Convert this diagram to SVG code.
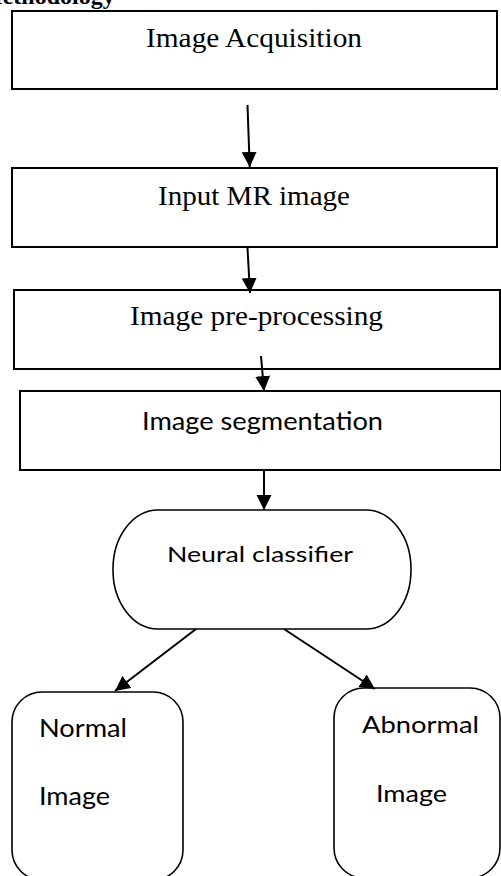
<svg xmlns="http://www.w3.org/2000/svg" width="501" height="876" viewBox="0 0 501 876">
  <defs>
    <marker id="ah" markerUnits="userSpaceOnUse" markerWidth="16" markerHeight="16" refX="15" refY="8" orient="auto">
      <path d="M0,0.5 L15,8 L0,15.5 z" fill="#000"/>
    </marker>
    <style>
      .box { fill: #fff; stroke: #000; stroke-width: 2; }
      .rbox { fill: #fff; stroke: #000; stroke-width: 1.6; }
      .serif { font-family: "Liberation Serif", "Times New Roman", serif; font-size: 27px; fill: #000; }
      .sans { font-family: Lato, "Open Sans", sans-serif; fill: #000; }
      .conn { stroke: #000; stroke-width: 2; fill: none; marker-end: url(#ah); }
    </style>
  </defs>
  <rect width="501" height="876" fill="#fff"/>
  <text x="-20" y="4" font-family="Liberation Serif, serif" font-weight="bold" font-size="24" fill="#000">Methodology</text>

  <g id="acquisition">
    <rect class="box" x="12" y="11" width="485" height="78"/>
    <text class="serif" x="146" y="47" textLength="216" lengthAdjust="spacingAndGlyphs">Image Acquisition</text>
  </g>
  <g id="input">
    <rect class="box" x="12" y="168" width="485" height="79"/>
    <text class="serif" x="158" y="205" textLength="192" lengthAdjust="spacingAndGlyphs">Input MR image</text>
  </g>
  <g id="preprocessing">
    <rect class="box" x="14" y="290" width="486" height="79"/>
    <text class="serif" x="130" y="325" font-size="25" textLength="253" lengthAdjust="spacingAndGlyphs">Image pre-processing</text>
  </g>
  <g id="segmentation">
    <rect class="box" x="20" y="391" width="481" height="79"/>
    <text class="sans" x="142" y="430" font-size="24.5" textLength="241" lengthAdjust="spacingAndGlyphs">Image segmentation</text>
  </g>
  <g id="classifier">
    <rect class="rbox" x="113" y="510" width="298" height="119" rx="45" ry="59"/>
    <text class="sans" x="167" y="562" font-size="22" textLength="186" lengthAdjust="spacingAndGlyphs">Neural classifier</text>
  </g>
  <g id="normal">
    <rect class="rbox" x="12" y="692" width="171" height="188" rx="30" ry="30"/>
    <text class="sans" x="39" y="737" font-size="25" textLength="88" lengthAdjust="spacingAndGlyphs">Normal</text>
    <text class="sans" x="39" y="805" font-size="25" textLength="71" lengthAdjust="spacingAndGlyphs">Image</text>
  </g>
  <g id="abnormal">
    <rect class="rbox" x="334" y="688" width="166" height="190" rx="30" ry="30"/>
    <text class="sans" x="362" y="733" font-size="24" textLength="117" lengthAdjust="spacingAndGlyphs">Abnormal</text>
    <text class="sans" x="376" y="802" font-size="24" textLength="71" lengthAdjust="spacingAndGlyphs">Image</text>
  </g>

  <g id="connectors">
    <line class="conn" x1="247.5" y1="105" x2="249.7" y2="167"/>
    <line class="conn" x1="247.5" y1="248" x2="250" y2="293"/>
    <line class="conn" x1="261" y1="356" x2="264" y2="391"/>
    <line class="conn" x1="264" y1="471" x2="264" y2="510"/>
    <line class="conn" x1="196" y1="629" x2="115" y2="691"/>
    <line class="conn" x1="284" y1="629" x2="375" y2="689"/>
  </g>
</svg>
